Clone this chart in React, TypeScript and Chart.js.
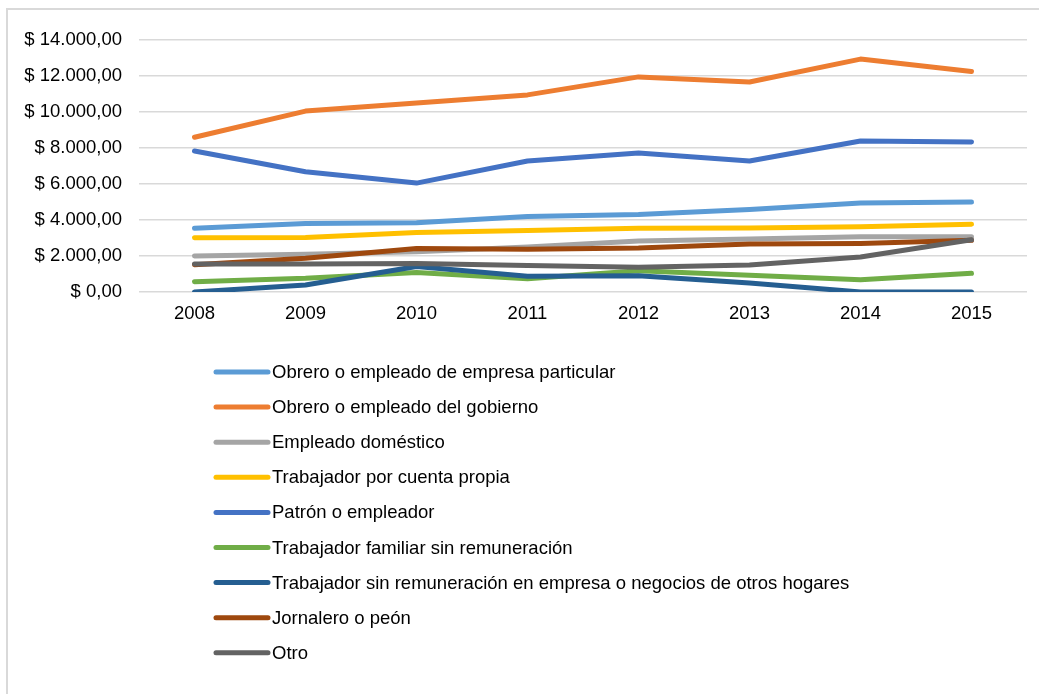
import React, { useEffect, useRef } from "react";
import { Chart, registerables } from "chart.js";

Chart.register(...registerables);

const years = ["2008", "2009", "2010", "2011", "2012", "2013", "2014", "2015"];

const seriesNames = [
  "Obrero o empleado de empresa particular",
  "Obrero o empleado del gobierno",
  "Empleado doméstico",
  "Trabajador por cuenta propia",
  "Patrón o empleador",
  "Trabajador familiar sin remuneración",
  "Trabajador sin remuneración en empresa o negocios de otros hogares",
  "Jornalero o peón",
  "Otro",
];

const particular = [3540, 3800, 3850, 4200, 4300, 4580, 4950, 5000];
const gobierno = [8600, 10050, 10500, 10950, 11950, 11670, 12940, 12250];
const domestico = [2000, 2100, 2230, 2500, 2830, 2950, 3070, 3070];
const cuentaPropia = [3020, 3030, 3300, 3420, 3540, 3550, 3630, 3770];
const patron = [7830, 6680, 6050, 7280, 7720, 7280, 8390, 8330];
const familiar = [570, 760, 1090, 730, 1180, 930, 680, 1040];
const sinRemuneracion = [0, 390, 1420, 870, 900, 500, 0, 0];
const jornalero = [1520, 1870, 2420, 2380, 2450, 2660, 2700, 2870];
const otro = [1550, 1560, 1590, 1470, 1380, 1500, 1940, 2900];

const seriesValues = [
  particular,
  gobierno,
  domestico,
  cuentaPropia,
  patron,
  familiar,
  sinRemuneracion,
  jornalero,
  otro,
];

const seriesColors = [
  "#5B9BD5",
  "#ED7D31",
  "#A5A5A5",
  "#FFC000",
  "#4472C4",
  "#70AD47",
  "#255E91",
  "#9E480E",
  "#636363",
];

const yTicks = [0, 2000, 4000, 6000, 8000, 10000, 12000, 14000];

function formatMoney(v: number): string {
  const int = Math.round(v).toString().replace(/\B(?=(\d{3})+(?!\d))/g, ".");
  return "$ " + int + ",00";
}

const FONT = "'Liberation Sans', Arial, sans-serif";
const FONT_SIZE = 18.5;

const framePlugin = {
  id: "frame",
  beforeDraw(chart: any) {
    const ctx = chart.ctx;
    ctx.save();
    ctx.fillStyle = "#ffffff";
    ctx.fillRect(0, 0, chart.width, chart.height);
    ctx.strokeStyle = "#d9d9d9";
    ctx.lineWidth = 2;
    ctx.beginPath();
    ctx.moveTo(chart.width, 9);
    ctx.lineTo(7, 9);
    ctx.lineTo(7, chart.height);
    ctx.stroke();
    ctx.restore();
  },
};

const legendPlugin = {
  id: "columnLegend",
  afterDraw(chart: any) {
    const ctx = chart.ctx;
    ctx.save();
    const startY = 372;
    const rowH = 35.1;
    chart.data.datasets.forEach((ds: any, i: number) => {
      const y = startY + i * rowH;
      ctx.strokeStyle = ds.borderColor;
      ctx.lineWidth = 5;
      ctx.lineCap = "round";
      ctx.beginPath();
      ctx.moveTo(216, y);
      ctx.lineTo(268, y);
      ctx.stroke();
      ctx.fillStyle = "#000000";
      ctx.font = FONT_SIZE + "px " + FONT;
      ctx.textBaseline = "middle";
      ctx.textAlign = "left";
      ctx.fillText(ds.label, 272, y + 1);
    });
    ctx.restore();
  },
};

export default function App() {
  const canvasRef = useRef<HTMLCanvasElement | null>(null);

  useEffect(() => {
    if (!canvasRef.current) return;
    const chart = new Chart(canvasRef.current, {
      type: "line",
      data: {
        labels: years,
        datasets: seriesNames.map((name, i) => ({
          label: name,
          data: seriesValues[i],
          borderColor: seriesColors[i],
          backgroundColor: seriesColors[i],
          borderWidth: 5,
          borderCapStyle: "round" as const,
          borderJoinStyle: "round" as const,
          pointRadius: 0,
          pointHoverRadius: 0,
          tension: 0,
          fill: false,
          order: -i,
        })),
      },
      options: {
        animation: false,
        responsive: false,
        maintainAspectRatio: false,
        layout: { padding: { top: 40, right: 12, bottom: 362, left: 0 } },
        plugins: {
          legend: { display: false },
          tooltip: { enabled: false },
          title: { display: false },
        },
        scales: {
          x: {
            offset: true,
            grid: { display: false, drawTicks: false },
            border: { display: false },
            ticks: {
              color: "#000000",
              font: { size: FONT_SIZE, family: FONT },
              padding: 11,
              maxRotation: 0,
            },
            afterFit: (s: any) => {
              s.height = 40;
            },
          },
          y: {
            min: 0,
            max: 14000,
            grid: { color: "#d9d9d9", lineWidth: 1.5, drawTicks: false },
            border: { display: false },
            afterBuildTicks: (s: any) => {
              s.ticks = yTicks.map((v) => ({ value: v }));
            },
            ticks: {
              color: "#000000",
              font: { size: FONT_SIZE, family: FONT },
              padding: 17,
              callback: (v: any) => formatMoney(Number(v)),
            },
            afterFit: (s: any) => {
              s.width = 139;
            },
          },
        },
      },
      plugins: [framePlugin, legendPlugin],
    });
    return () => chart.destroy();
  }, []);

  return (
    <div style={{ position: "fixed", left: 0, top: 0, width: 1039, height: 694, background: "#fff" }}>
      <canvas ref={canvasRef} width={1039} height={694} style={{ width: 1039, height: 694, display: "block" }} />
    </div>
  );
}
